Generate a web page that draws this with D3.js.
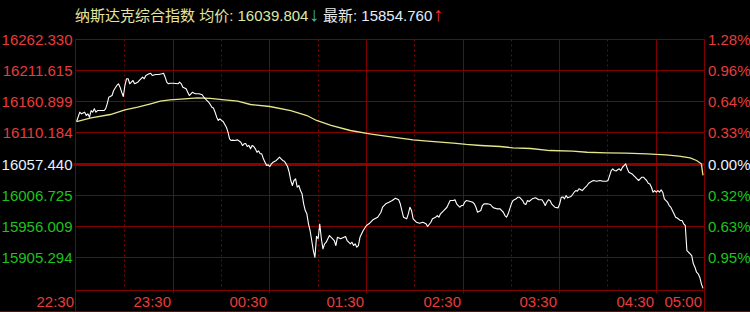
<!DOCTYPE html>
<html>
<head>
<meta charset="utf-8">
<script src="https://cdn.jsdelivr.net/npm/d3@7"></script>
<style>
	body { margin: 0; background: #000; overflow: hidden; }
	#chart { width: 750px; height: 312px; }
	text { font-family: "Liberation Sans", Arial, "Noto Sans CJK SC", sans-serif; font-size: 15px; }
</style>
</head>
<body>
<div id="chart"></div>
<script>
const titleName = "纳斯达克综合指数";
const avgPrice = "16039.804";
const lastPrice = "15854.760";

const prevClose = 16057.440;
const priceTicks = [16262.330, 16211.615, 16160.899, 16110.184, 16057.440, 16006.725, 15956.009, 15905.294];
const pctLabels = ["1.28%", "0.96%", "0.64%", "0.33%", "0.00%", "0.32%", "0.63%", "0.95%"];

// minutes after 22:30
const hourTicks = [0, 60, 120, 180, 240, 300, 360, 390];
const hourLabels = ["22:30", "23:30", "00:30", "01:30", "02:30", "03:30", "04:30", "05:00"];
const halfTicks = [30, 90, 150, 210, 270, 330];

// [minute, price]
const priceSeries = [
	[0,16128.0],[2,16143.3],[3,16140.6],[5,16143.3],[6,16137.8],[7,16140.6],[8,16135.1],[9,16146.0],
	[10,16143.3],[11,16148.8],[12,16143.3],[13,16146.0],[15,16146.0],[17,16146.0],[18,16148.8],[19,16157.0],
	[20,16167.8],[22,16170.6],[23,16178.8],[25,16187.0],[26,16189.8],[27,16184.2],[28,16176.0],[29,16169.0],
	[30,16187.0],[31,16198.0],[32,16198.0],[33,16189.8],[34,16192.4],[35,16195.2],[36,16189.8],[38,16192.4],
	[39,16195.2],[41,16200.6],[42,16198.0],[43,16203.4],[45,16206.1],[46,16207.1],[47,16203.4],[49,16205.0],
	[51,16205.0],[53,16206.1],[54,16207.1],[55,16200.6],[56,16192.4],[57,16189.8],[58,16190.8],[60,16190.8],
	[63,16189.8],[64,16192.4],[65,16189.8],[66,16184.2],[68,16181.6],[69,16176.0],[70,16170.6],[71,16173.4],
	[72,16176.0],[73,16174.4],[74,16173.4],[76,16173.4],[78,16171.8],[79,16167.8],[80,16165.2],[81,16162.4],
	[82,16159.6],[83,16156.0],[84,16151.4],[85,16150.0],[86,16143.3],[87,16135.1],[88,16129.7],[89,16132.4],
	[90,16129.7],[91,16128.0],[93,16118.7],[94,16110.5],[95,16099.7],[96,16096.9],[97,16097.5],[98,16096.9],
	[100,16098.0],[102,16094.1],[103,16088.7],[104,16091.5],[105,16092.0],[106,16087.1],[107,16089.0],[108,16083.3],
	[109,16088.7],[110,16087.0],[111,16083.3],[112,16077.7],[113,16080.0],[114,16075.1],[115,16075.1],[116,16066.9],
	[117,16061.4],[118,16055.9],[119,16057.0],[120,16054.3],[121,16058.7],[122,16061.4],[124,16064.2],[125,16066.9],
	[126,16069.6],[127,16066.9],[128,16064.2],[129,16063.0],[130,16059.0],[131,16054.3],[132,16045.0],[133,16031.4],
	[134,16023.2],[135,16031.4],[136,16034.2],[137,16020.4],[138,16023.2],[139,16015.0],[140,16009.6],[141,15993.2],
	[142,15982.2],[143,15976.8],[144,15960.4],[145,15949.5],[146,15933.1],[147,15916.7],[148,15905.7],[149,15940.0],
	[150,15936.0],[151,15960.0],[152,15936.0],[153,15919.5],[154,15927.7],[155,15930.3],[157,15941.3],[158,15938.5],
	[159,15935.9],[160,15933.1],[161,15924.9],[162,15938.5],[164,15935.9],[166,15938.5],[167,15939.7],[168,15933.1],
	[169,15930.3],[170,15927.7],[171,15930.3],[172,15924.9],[173,15927.7],[174,15922.1],[175,15924.9],[176,15938.5],
	[177,15944.1],[178,15949.5],[180,15957.7],[182,15961.4],[184,15967.0],[187,15971.3],[189,15979.4],[190,15987.6],
	[192,15993.2],[194,15995.8],[196,15998.6],[198,16002.4],[200,15999.8],[201,15993.2],[202,15982.2],[203,15971.3],
	[205,15968.6],[206,15976.8],[207,15987.6],[208,15982.2],[209,15968.6],[211,15963.1],[213,15961.4],[215,15963.1],
	[217,15960.4],[218,15956.0],[220,15963.1],[221,15968.6],[223,15971.3],[224,15974.0],[225,15971.3],[226,15976.8],
	[228,15982.2],[230,15987.6],[231,15993.2],[232,15998.6],[234,15998.6],[235,15999.8],[236,15993.2],[237,15990.4],
	[238,15987.6],[239,15990.4],[240,15990.4],[241,15995.8],[242,15998.6],[244,15997.5],[246,15995.8],[247,15993.2],
	[248,15987.6],[249,15979.4],[251,15982.2],[252,15990.4],[253,15993.2],[255,15993.2],[257,15992.1],[258,15988.8],
	[259,15986.6],[261,15985.0],[263,15985.0],[264,15982.2],[265,15979.4],[266,15974.0],[267,15971.3],[268,15976.8],
	[269,15985.0],[270,15993.2],[271,15998.6],[273,16001.4],[274,16004.0],[275,16004.0],[277,15998.6],[278,15993.2],
	[279,15992.1],[280,15998.6],[281,15997.0],[283,16001.4],[285,16003.0],[287,15999.8],[289,15999.8],[290,15995.8],
	[291,15990.4],[292,15995.8],[293,15999.8],[294,15998.6],[295,15993.2],[296,15990.4],[297,15987.6],[299,15986.6],
	[300,15993.2],[301,16004.0],[302,16004.5],[303,16001.4],[304,16006.8],[305,16003.0],[307,16005.2],[308,16008.4],
	[309,16012.2],[310,16014.9],[311,16014.0],[312,16017.8],[314,16014.9],[315,16017.8],[316,16020.4],[317,16023.2],
	[318,16026.9],[319,16028.6],[320,16030.2],[321,16031.4],[323,16030.2],[325,16031.4],[327,16030.2],[329,16030.2],
	[330,16031.4],[331,16039.5],[332,16047.7],[333,16050.5],[334,16047.7],[335,16047.0],[336,16048.9],[337,16050.5],
	[338,16047.7],[339,16053.1],[340,16055.9],[341,16058.7],[342,16050.5],[343,16045.0],[345,16042.2],[346,16039.5],
	[347,16036.8],[348,16034.2],[349,16031.4],[350,16034.2],[351,16036.8],[352,16036.8],[353,16034.2],[354,16031.4],
	[355,16026.9],[356,16025.8],[357,16020.4],[358,16012.2],[359,16014.9],[360,16012.2],[361,16014.9],[362,16012.2],
	[363,16016.1],[364,16012.2],[365,16001.4],[366,15998.6],[367,15995.8],[368,15990.4],[369,15987.6],[370,15982.2],
	[371,15976.8],[372,15971.3],[373,15970.0],[375,15965.8],[376,15965.8],[377,15960.4],[378,15957.7],[379,15916.7],
	[380,15913.9],[381,15911.3],[382,15908.5],[383,15895.0],[384,15889.4],[385,15881.2],[386,15878.6],[387,15873.0],
	[388,15862.2],[389,15854.76]
];

// [minute, average price]
const avgSeries = [
	[0,16128.0],[9,16134.1],[21,16139.5],[30,16147.2],[38,16151.4],[46,16157.0],[52,16161.3],[58,16163.6],
	[67,16165.2],[75,16166.8],[83,16166.0],[92,16163.6],[100,16161.3],[108,16155.9],[120,16152.6],[133,16146.0],
	[143,16137.8],[149,16129.7],[158,16121.5],[170,16113.3],[182,16107.9],[193,16103.5],[201,16100.7],[209,16098.1],
	[218,16095.8],[226,16094.1],[234,16092.5],[242,16090.4],[251,16088.7],[263,16087.1],[271,16084.9],[282,16083.8],
	[294,16080.5],[308,16079.4],[317,16077.7],[329,16076.8],[341,16076.1],[354,16075.1],[366,16073.5],[374,16071.2],
	[381,16068.6],[385,16064.2],[388,16058.7],[389,16039.804]
];

class TimeSharePlot {
	constructor(id, price, avg) {
		this.id = id;
		this.div = d3.select("#" + id);
		this.price = price;
		this.avg = avg;

		this.gridColor = "#800000";
		this.upColor = "#e83c3c";
		this.downColor = "#1ec21e";
		this.flatColor = "#e8f2ff";

		this.instantiateSVG();
		this.instantiateScales();
		this.drawGrid();
		this.drawLabels();
		this.drawTitle();
		this.render();
	}

	instantiateSVG() {
		this.width = 750;
		this.height = 312;
		// plot frame
		this.left = 75.5;
		this.right = 704.5;
		this.top = 39.5;
		this.bottom = 290.5;
		this.svg = this.div.append("svg")
			.attr("width", this.width)
			.attr("height", this.height)
			.style("background", "#000");
	}

	instantiateScales() {
		this.x = d3.scaleLinear()
			.domain([0, 390])
			.range([this.left + 1.1, this.right + 0.1]);
		this.y = d3.scaleLinear()
			.domain([priceTicks[priceTicks.length - 1], priceTicks[0]])
			.range([257.5, this.top]);
	}

	snap(v) {
		return Math.floor(v) + 0.5;
	}

	drawGrid() {
		let g = this.svg.append("g").attr("class", "grid");

		// half-hour dotted lines
		g.selectAll("line.half")
			.data(halfTicks)
			.enter().append("line")
				.attr("class", "half")
				.attr("x1", d => this.snap(this.x(d)))
				.attr("x2", d => this.snap(this.x(d)))
				.attr("y1", this.top)
				.attr("y2", this.bottom)
				.attr("stroke", this.gridColor)
				.attr("stroke-dasharray", "2,3");

		// hour lines, with a small tick under the axis
		g.selectAll("line.hour")
			.data(hourTicks.slice(1, -1))
			.enter().append("line")
				.attr("class", "hour")
				.attr("x1", d => this.snap(this.x(d)))
				.attr("x2", d => this.snap(this.x(d)))
				.attr("y1", this.top)
				.attr("y2", this.bottom + 3)
				.attr("stroke", this.gridColor);

		// price levels
		g.selectAll("line.level")
			.data(priceTicks.filter(d => d !== prevClose))
			.enter().append("line")
				.attr("class", "level")
				.attr("x1", this.left)
				.attr("x2", this.right)
				.attr("y1", d => this.snap(this.y(d)))
				.attr("y2", d => this.snap(this.y(d)))
				.attr("stroke", this.gridColor);

		g.append("line")
			.attr("x1", this.left - 2)
			.attr("x2", this.right)
			.attr("y1", this.y(prevClose))
			.attr("y2", this.y(prevClose))
			.attr("stroke", "#8c0000")
			.attr("stroke-width", 3);

		// frame
		g.append("line")
			.attr("x1", this.left).attr("x2", this.right)
			.attr("y1", this.bottom).attr("y2", this.bottom)
			.attr("stroke", this.gridColor);
		g.append("line")
			.attr("x1", 0).attr("x2", this.width)
			.attr("y1", this.height - 0.5).attr("y2", this.height - 0.5)
			.attr("stroke", this.gridColor);
		[this.left, this.right].forEach(xv => {
			g.append("line")
				.attr("x1", xv).attr("x2", xv)
				.attr("y1", this.top).attr("y2", this.height)
				.attr("stroke", this.gridColor);
		});
	}

	drawLabels() {
		let colorOf = d => d > prevClose ? this.upColor : (d < prevClose ? this.downColor : this.flatColor);

		this.svg.append("g").selectAll("text")
			.data(priceTicks)
			.enter().append("text")
				.attr("x", this.left - 3)
				.attr("y", d => this.snap(this.y(d)))
				.attr("dy", "0.36em")
				.attr("text-anchor", "end")
				.attr("fill", colorOf)
				.text(d => d.toFixed(3));

		this.svg.append("g").selectAll("text")
			.data(priceTicks)
			.enter().append("text")
				.attr("x", this.right + 3.5)
				.attr("y", d => this.snap(this.y(d)))
				.attr("dy", "0.36em")
				.attr("fill", colorOf)
				.text((d, i) => pctLabels[i]);

		this.svg.append("g").selectAll("text")
			.data(hourTicks)
			.enter().append("text")
				.attr("x", d => this.snap(this.x(d)) - 2.5)
				.attr("y", 306.5)
				.attr("text-anchor", "end")
				.attr("fill", this.upColor)
				.text((d, i) => hourLabels[i]);
	}

	drawTitle() {
		let t = this.svg.append("text")
			.attr("x", 75)
			.attr("y", 21);
		t.append("tspan").attr("fill", "#e4e4a2").text(titleName + " 均价: ");
		t.append("tspan").attr("fill", "#dde8a6").text(avgPrice);
		t.append("tspan").attr("x", 309).attr("fill", "#3cb8c8")
			.style("font-size", "20px").style("font-weight", "bold").text("↓");
		t.append("tspan").attr("x", 323).attr("fill", "#e8e8e8").text("最新: ");
		t.append("tspan").attr("fill", "#e2ebff").text(lastPrice);
		t.append("tspan").attr("x", 433).attr("fill", "#f03030")
			.style("font-size", "20px").style("font-weight", "bold").text("↑");
	}

	render() {
		let line = d3.line()
			.x(d => this.x(d[0]))
			.y(d => this.y(d[1]));

		this.svg.append("path")
			.datum(this.avg)
			.attr("fill", "none")
			.attr("stroke", "#e6e68c")
			.attr("stroke-width", 1.3)
			.attr("d", line);

		this.svg.append("path")
			.datum(this.price)
			.attr("fill", "none")
			.attr("stroke", "#ffffff")
			.attr("stroke-width", 1.1)
			.attr("stroke-linejoin", "round")
			.attr("d", line);
	}
}

new TimeSharePlot("chart", priceSeries, avgSeries);
</script>
</body>
</html>
